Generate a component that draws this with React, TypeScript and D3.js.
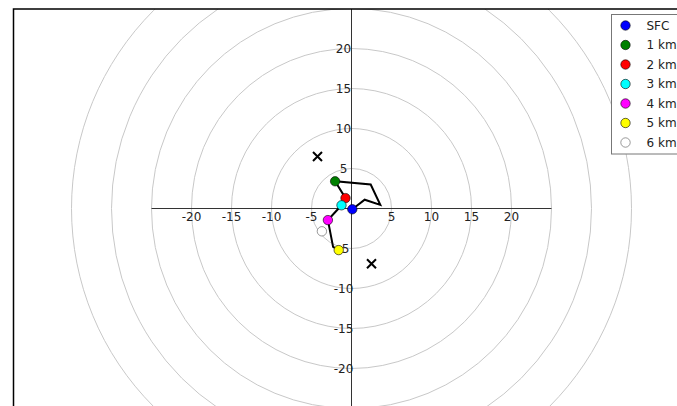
import React, { useEffect, useRef } from "react";
import * as d3 from "d3";

// hodograph levels shown in the legend
const levels = ["SFC", "1 km", "2 km", "3 km", "4 km", "5 km", "6 km"];
const levelColors = ["#0000ff", "#008000", "#ff0000", "#00ffff", "#ff00ff", "#ffff00", "#ffffff"];
const levelU = [0.1, -2.05, -0.75, -1.25, -2.95, -1.6, -3.7];
const levelV = [-0.1, 3.4, 1.3, 0.4, -1.45, -5.2, -2.85];

// wind trace (u, v in kt)
const traceU = [0.1, 1.65, 3.6, 2.4, -2.05, -0.75, -1.25, -2.95, -2.3, -1.6];
const traceV = [-0.1, 1.1, 0.45, 3.0, 3.4, 1.3, 0.4, -1.45, -4.8, -5.2];

// storm motion markers
const stormU = [-4.25, 2.5];
const stormV = [6.5, -6.9];

const ringRadii = [5, 10, 15, 20, 25, 30, 35];
const tickValues = [-20, -15, -10, -5, 5, 10, 15, 20];

export default function App() {
  const ref = useRef<SVGSVGElement | null>(null);

  useEffect(() => {
    const svg = d3.select(ref.current);
    svg.selectAll("*").remove();

    const cx = 351.5;
    const cy = 208.5;
    const k = 8; // px per unit
    const x = d3.scaleLinear().domain([-25, 25]).range([cx - 25 * k, cx + 25 * k]);
    const y = d3.scaleLinear().domain([-25, 25]).range([cy + 25 * k, cy - 25 * k]);

    // axes frame (extends past the right and bottom edges)
    const frame = { left: 13.5, top: 9, right: x(42.2), bottom: y(-25.5) };

    svg
      .append("defs")
      .append("clipPath")
      .attr("id", "plotclip")
      .append("rect")
      .attr("x", frame.left)
      .attr("y", frame.top)
      .attr("width", frame.right - frame.left)
      .attr("height", frame.bottom - frame.top);

    const g = svg.append("g").attr("clip-path", "url(#plotclip)");

    // range rings
    g.selectAll(".ring")
      .data(ringRadii)
      .join("circle")
      .attr("cx", x(0))
      .attr("cy", y(0))
      .attr("r", (d) => x(d) - x(0))
      .attr("fill", "none")
      .attr("stroke", "#c8c8c8")
      .attr("stroke-width", 1);

    // axis lines
    g.append("line")
      .attr("x1", x(-25))
      .attr("x2", x(25))
      .attr("y1", y(0))
      .attr("y2", y(0))
      .attr("stroke", "#333")
      .attr("stroke-width", 1);
    g.append("line")
      .attr("x1", x(0))
      .attr("x2", x(0))
      .attr("y1", y(-25))
      .attr("y2", y(25))
      .attr("stroke", "#333")
      .attr("stroke-width", 1);

    // tick labels
    const font = "DejaVu Sans, sans-serif";
    g.selectAll(".xlab")
      .data(tickValues)
      .join("text")
      .attr("x", (d) => x(d))
      .attr("y", y(-1))
      .attr("text-anchor", "middle")
      .attr("dominant-baseline", "central")
      .attr("font-family", font)
      .attr("font-size", 12)
      .attr("fill", "#222")
      .text((d) => d);
    g.selectAll(".ylab")
      .data(tickValues)
      .join("text")
      .attr("x", x(-1))
      .attr("y", (d) => y(d))
      .attr("text-anchor", "middle")
      .attr("dominant-baseline", "central")
      .attr("font-family", font)
      .attr("font-size", 12)
      .attr("fill", "#222")
      .text((d) => d);

    // hodograph trace
    const line = d3
      .line<number>()
      .x((i) => x(traceU[i]))
      .y((i) => y(traceV[i]));
    g.append("path")
      .attr("d", line(traceU.map((_, i) => i)))
      .attr("fill", "none")
      .attr("stroke", "#000")
      .attr("stroke-width", 2)
      .attr("stroke-linejoin", "miter");

    // storm motion x markers
    const s = 4.5;
    stormU.forEach((u, i) => {
      const px = x(u);
      const py = y(stormV[i]);
      g.append("path")
        .attr("d", `M${px - s},${py - s}L${px + s},${py + s}M${px - s},${py + s}L${px + s},${py - s}`)
        .attr("stroke", "#000")
        .attr("stroke-width", 2);
    });

    // level markers
    g.selectAll(".lvl")
      .data(levels)
      .join("circle")
      .attr("cx", (_, i) => x(levelU[i]))
      .attr("cy", (_, i) => y(levelV[i]))
      .attr("r", 4.7)
      .attr("fill", (_, i) => levelColors[i])
      .attr("stroke", (_, i) => (i === 6 ? "#555" : "#000"))
      .attr("stroke-width", 0.6);

    // frame
    svg
      .append("rect")
      .attr("x", frame.left)
      .attr("y", frame.top)
      .attr("width", frame.right - frame.left)
      .attr("height", frame.bottom - frame.top)
      .attr("fill", "none")
      .attr("stroke", "#000")
      .attr("stroke-width", 1.5);

    // legend
    const leg = svg.append("g").attr("transform", "translate(611.5,14.5)");
    leg
      .append("rect")
      .attr("width", 90)
      .attr("height", 139.5)
      .attr("fill", "#fff")
      .attr("stroke", "#777")
      .attr("stroke-width", 1);
    levels.forEach((name, i) => {
      const ry = 11 + i * 19.5;
      leg
        .append("circle")
        .attr("cx", 14)
        .attr("cy", ry)
        .attr("r", 4.7)
        .attr("fill", levelColors[i])
        .attr("stroke", i === 6 ? "#555" : "#000")
        .attr("stroke-width", 0.6);
      leg
        .append("text")
        .attr("x", 35)
        .attr("y", ry)
        .attr("dominant-baseline", "central")
        .attr("font-family", font)
        .attr("font-size", 12)
        .attr("fill", "#222")
        .text(name);
    });
  }, []);

  return (
    <svg
      ref={ref}
      width={677}
      height={406}
      style={{ position: "absolute", left: 0, top: 0, background: "#fff" }}
    />
  );
}
